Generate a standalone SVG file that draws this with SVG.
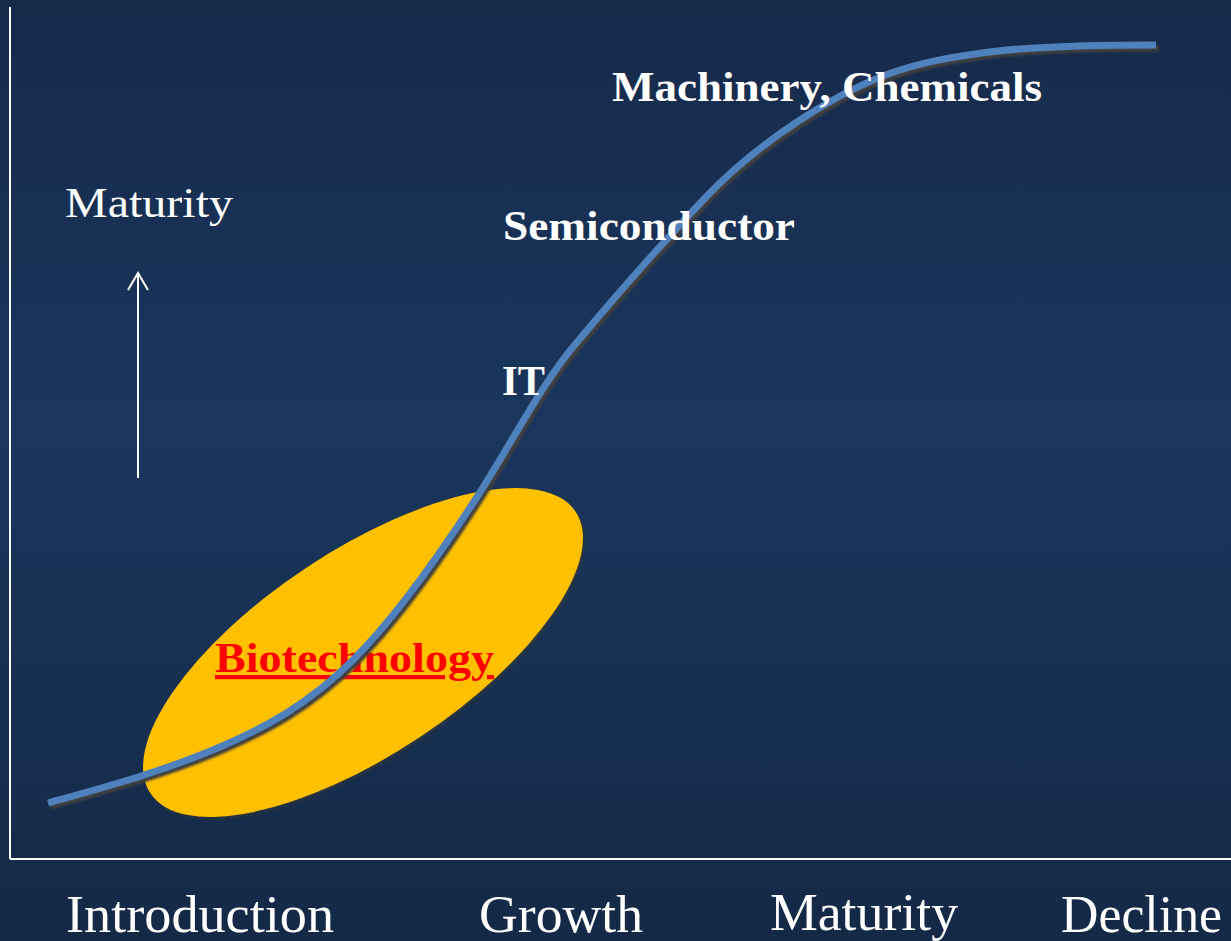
<svg xmlns="http://www.w3.org/2000/svg" width="1231" height="941" viewBox="0 0 1231 941">
  <defs>
    <linearGradient id="bg" x1="0" y1="0" x2="0" y2="1">
      <stop offset="0" stop-color="#162a4a"/>
      <stop offset="0.45" stop-color="#1a365d"/>
      <stop offset="1" stop-color="#142946"/>
    </linearGradient>
    <filter id="soft" x="-5%" y="-5%" width="110%" height="110%">
      <feGaussianBlur stdDeviation="1"/>
    </filter>
    <path id="scurve" d="M48,803 C105.33,786.95 162.67,771.65 220,747 C264.33,727.94 308.67,704.33 353,660 C394.33,618.67 435.67,561.07 477,497 C509,447.4 541,385.4 573,347 C617.33,293.8 661.67,243.55 706,197 C737.33,164.1 768.67,140.37 800,120 C833.33,98.33 866.67,80.67 900,70 C933.33,59.33 966.67,54.7 1000,50.7 C1051.67,45.53 1103.33,45 1156,45"/>
  </defs>
  <style>
    .axis { stroke: #ffffff; stroke-width: 2; fill: none; }
    .lbl { font-family: "Liberation Serif", "Times New Roman", serif; fill: #ffffff; }
    .ind { font-family: "Liberation Serif", "Times New Roman", serif; font-weight: bold; font-size: 42px; fill: #ffffff; }
    .stage { font-family: "Liberation Serif", "Times New Roman", serif; font-size: 52px; fill: #ffffff; }
  </style>

  <rect x="0" y="0" width="1231" height="941" fill="url(#bg)"/>

  <g id="axes">
    <line class="axis" x1="10" y1="7" x2="10" y2="859"/>
    <line class="axis" x1="10" y1="859" x2="1231" y2="859"/>
  </g>

  <g id="maturity-axis-label">
    <text class="lbl" x="65" y="217" font-size="43" textLength="168" lengthAdjust="spacingAndGlyphs">Maturity</text>
    <line class="axis" x1="138" y1="478" x2="138" y2="273"/>
    <polyline class="axis" points="128,290 138,273 148,290"/>
  </g>

  <g id="biotech-ellipse">
    <ellipse cx="365" cy="655" rx="255" ry="102" transform="rotate(-33.5 365 655)" fill="#3a3a30" opacity="0.5" filter="url(#soft)"/>
    <ellipse cx="363" cy="652.5" rx="255" ry="102" transform="rotate(-33.5 363 652.5)" fill="#ffc000"/>
  </g>

  <g id="biotech-label">
    <text x="215" y="672" font-family="Liberation Serif, Times New Roman, serif" font-weight="bold" font-size="42" fill="#ff0000" text-decoration="underline" textLength="279" lengthAdjust="spacingAndGlyphs">Biotechnology</text>
  </g>

  <g id="connectors">
    <use href="#scurve" fill="none" stroke="#404040" stroke-width="7" transform="translate(2.5,3)" filter="url(#soft)"/>
    <use href="#scurve" fill="none" stroke="#4f81bd" stroke-width="7"/>
  </g>

  <g id="machinery">
    <text class="ind" x="612" y="101" textLength="430" lengthAdjust="spacingAndGlyphs">Machinery, Chemicals</text>
  </g>
  <g id="semiconductor">
    <text class="ind" x="503" y="240" textLength="292" lengthAdjust="spacingAndGlyphs">Semiconductor</text>
  </g>
  <g id="it">
    <text class="ind" x="502" y="395" textLength="43" lengthAdjust="spacingAndGlyphs">IT</text>
  </g>

  <g id="stages">
    <text class="stage" x="66" y="932" textLength="268" lengthAdjust="spacingAndGlyphs">Introduction</text>
    <text class="stage" x="479" y="932" textLength="164" lengthAdjust="spacingAndGlyphs">Growth</text>
    <text class="stage" x="770" y="930" textLength="188" lengthAdjust="spacingAndGlyphs">Maturity</text>
    <text class="stage" x="1061" y="932" textLength="161" lengthAdjust="spacingAndGlyphs">Decline</text>
  </g>
</svg>
